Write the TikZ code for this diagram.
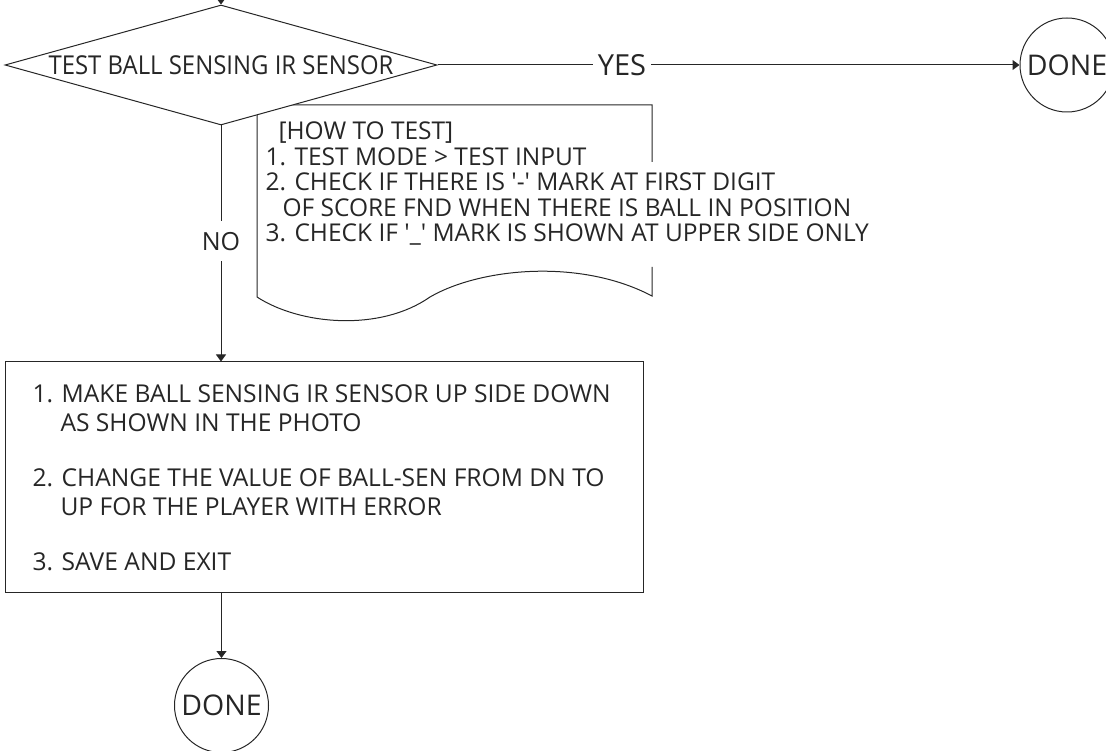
\documentclass[tikz,border=0pt]{standalone}
\usepackage{fontspec}
\setmainfont{Open Sans}
\newfontfamily\diafont{Open Sans}[FakeStretch=0.92]
\usetikzlibrary{shapes.geometric,arrows.meta}
\definecolor{ink}{HTML}{262626}
\begin{document}
\begin{tikzpicture}[x=1pt,y=-1pt,line width=1pt,color=ink,
  lbl/.style={font=\fontsize{25}{29}\selectfont},
  yeslbl/.style={font=\fontsize{29}{33}\selectfont},
  notetxt/.style={anchor=base west,inner sep=0pt,font=\fontsize{24.5}{29}\selectfont},
  boxtxt/.style={anchor=base west,inner sep=0pt,font=\fontsize{24.6}{28}\selectfont},
  arr/.style={-{Triangle[width=10pt,length=7pt]}},
  endc/.style={circle,draw,minimum size=94pt,inner sep=0pt,font=\fontsize{28.5}{33}\selectfont}]
\useasboundingbox (0,0) rectangle (1106,751);
% note (callout) shape
\draw (652,162) -- (652,105) -- (257,105) -- (257,297)
  .. controls (300,325) and (380,332) .. (430,297)
  .. controls (480,268) and (580,258) .. (652,296) -- (652,267);
% decision
\node[diamond,draw,fill=white,minimum width=432pt,minimum height=120pt,inner sep=0pt,aspect=3.6,font=\diafont\fontsize{26}{30}\selectfont] (dia) at (221,65) {TEST BALL SENSING IR SENSOR};
\coordinate (topin) at (221,-15);
\draw[arr] (topin) -- (dia.north);
% terminals
\node[endc] (done1) at (1067,65) {DONE};
\node[endc] (done2) at (221.5,705.5) {DONE};
% process box
\node[draw,minimum width=638pt,minimum height=230pt,inner sep=0pt] (box) at (324,477) {};
% connectors
\draw[arr] (dia.east) -- node[pos=0.317,fill=white,inner xsep=5pt,inner ysep=2pt,yeslbl] {YES} (done1.west);
\draw[arr] (dia.south) -- node[pos=0.49,fill=white,inner sep=11pt,lbl] {NO} (dia.south |- box.north);
\draw[arr] (done2 |- box.south) -- (done2.north);
% note text
\node[notetxt] (n0) at (278,140) {[HOW TO TEST]};
\node[notetxt] (n1) at (265,165.5) {1. TEST MODE > TEST INPUT};
\node[notetxt] (n2) at (265,191) {2. CHECK IF THERE IS \textquotesingle-\textquotesingle{} MARK AT FIRST DIGIT};
\node[notetxt] (n3) at (282,216.5) {OF SCORE FND WHEN THERE IS BALL IN POSITION};
\node[notetxt] (n4) at (265,242) {3. CHECK IF \textquotesingle\_\textquotesingle{} MARK IS SHOWN AT UPPER SIDE ONLY};
% box text
\node[boxtxt] (b1) at (32,402) {1. MAKE BALL SENSING IR SENSOR UP SIDE DOWN};
\node[boxtxt] (b2) at (60,431) {AS SHOWN IN THE PHOTO};
\node[boxtxt] (b3) at (32,486) {2. CHANGE THE VALUE OF BALL-SEN FROM DN TO};
\node[boxtxt] (b4) at (60,515) {UP FOR THE PLAYER WITH ERROR};
\node[boxtxt] (b5) at (32,570) {3. SAVE AND EXIT};
\end{tikzpicture}
\end{document}
